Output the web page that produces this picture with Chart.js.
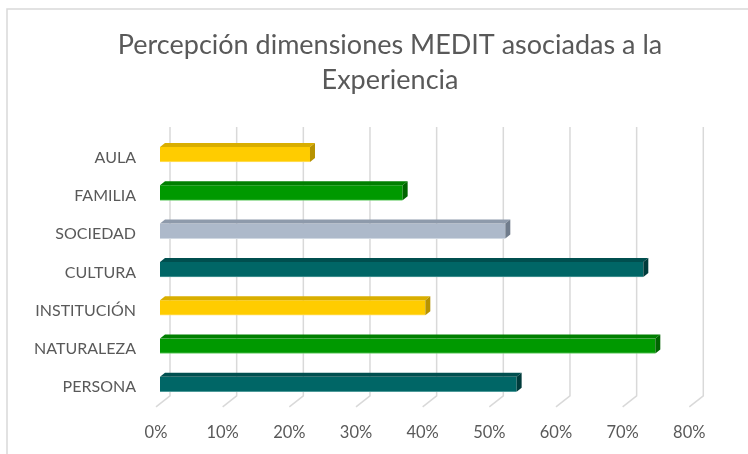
<!DOCTYPE html>
<html>
<head>
<meta charset="utf-8">
<script src="https://cdn.jsdelivr.net/npm/chart.js@4/dist/chart.umd.min.js"></script>
<style>
  html, body { margin: 0; padding: 0; background: #fff; }
  #wrap { width: 748px; height: 454px; }
</style>
</head>
<body>
<div id="wrap"><canvas id="c" width="748" height="454"></canvas></div>
<script>
// data
var categories = ["AULA", "FAMILIA", "SOCIEDAD", "CULTURA", "INSTITUCIÓN", "NATURALEZA", "PERSONA"];
var values = [22.5, 36.4, 51.8, 72.5, 39.8, 74.3, 53.5];
var tickValues = [0, 10, 20, 30, 40, 50, 60, 70, 80];
var titleLines = ["Percepción dimensiones MEDIT asociadas a la", "Experiencia"];

// front / top / side colours per bar
var frontColors = ["#FFCC00", "#009900", "#ADB9CA", "#006666", "#FFCC00", "#009900", "#006666"];
var topColors   = ["#D9AE00", "#007F00", "#8E9AAB", "#004F4F", "#D9AE00", "#007F00", "#004F4F"];
var sideColors  = ["#B89300", "#006400", "#707C8C", "#003B3B", "#B89300", "#006400", "#003B3B"];
var edgeColors  = ["#FFE066", "#66CC66", "#D0D8E2", "#4D9999", "#FFE066", "#66CC66", "#4D9999"];

var DX = 5, DY = 4;          // bar depth
var GX = 14, GY = 11;        // floor depth for gridlines

// frame and title
var framePlugin = {
  id: "frame",
  beforeDraw: function(chart) {
    var ctx = chart.ctx;
    ctx.save();
    ctx.fillStyle = "#fff";
    ctx.fillRect(0, 0, chart.width, chart.height);
    ctx.strokeStyle = "#d9d9d9";
    ctx.lineWidth = 1.5;
    ctx.beginPath();
    ctx.moveTo(7, chart.height);
    ctx.lineTo(7, 9);
    ctx.lineTo(chart.width, 9);
    ctx.stroke();

    ctx.fillStyle = "#595959";
    ctx.font = "400 27px Lato";
    ctx.textAlign = "center";
    ctx.textBaseline = "middle";
    titleLines.forEach(function(line, i) {
      ctx.fillText(line, 390, 45 + i * 35);
    });
    ctx.restore();
  }
};

// back wall gridlines with a slanted foot on the floor
var gridPlugin = {
  id: "grid3d",
  beforeDatasetsDraw: function(chart) {
    var ctx = chart.ctx, xs = chart.scales.x, area = chart.chartArea;
    var top = area.top - 8.5, back = area.bottom - 7.5;
    ctx.save();
    ctx.strokeStyle = "#d9d9d9";
    ctx.lineWidth = 1.5;
    tickValues.forEach(function(v) {
      var px = xs.getPixelForValue(v);
      ctx.beginPath();
      ctx.moveTo(px + 10, top);
      ctx.lineTo(px + 10, back);
      ctx.lineTo(px + 10 - GX, back + GY);
      ctx.stroke();
    });
    ctx.restore();
  }
};

// top and side faces of each bar
var bar3dPlugin = {
  id: "bar3d",
  afterDatasetsDraw: function(chart) {
    var ctx = chart.ctx;
    var meta = chart.getDatasetMeta(0);
    ctx.save();
    meta.data.forEach(function(bar, i) {
      var p = bar.getProps(["x", "y", "base", "height"], true);
      var t = p.y - p.height / 2, b = p.y + p.height / 2;
      ctx.fillStyle = topColors[i];
      ctx.beginPath();
      ctx.moveTo(p.base, t);
      ctx.lineTo(p.base + DX, t - DY);
      ctx.lineTo(p.x + DX, t - DY);
      ctx.lineTo(p.x, t);
      ctx.closePath();
      ctx.fill();
      ctx.fillStyle = sideColors[i];
      ctx.beginPath();
      ctx.moveTo(p.x, t);
      ctx.lineTo(p.x + DX, t - DY);
      ctx.lineTo(p.x + DX, b - DY);
      ctx.lineTo(p.x, b);
      ctx.closePath();
      ctx.fill();
    });
    ctx.restore();
  }
};

new Chart(document.getElementById("c"), {
  type: "bar",
  data: {
    labels: categories,
    datasets: [{
      data: values,
      backgroundColor: frontColors,
      borderColor: edgeColors,
      borderWidth: { top: 0, right: 0, bottom: 1, left: 0 },
      borderSkipped: false,
      barThickness: 15
    }]
  },
  options: {
    indexAxis: "y",
    responsive: false,
    animation: false,
    layout: { padding: { top: 135.4, left: 0, right: 54.7, bottom: 0 } },
    plugins: {
      legend: { display: false },
      tooltip: { enabled: false },
      title: { display: false }
    },
    scales: {
      x: {
        min: 0,
        max: 80,
        afterBuildTicks: function(scale) {
          scale.ticks = tickValues.map(function(v) { return { value: v }; });
        },
        afterFit: function(scale) { scale.height = 50.6; },
        grid: { display: false, drawTicks: false },
        border: { display: false },
        ticks: {
          color: "#595959",
          font: { family: "Lato", size: 16.5 },
          padding: 19,
          labelOffset: -4,
          maxRotation: 0,
          callback: function(v) { return v + "%"; }
        }
      },
      y: {
        afterFit: function(scale) { scale.width = 160; },
        grid: { display: false, drawTicks: false },
        border: { display: false },
        ticks: {
          color: "#595959",
          font: { family: "Lato", size: 16 },
          padding: 24,
          labelOffset: 3
        }
      }
    }
  },
  plugins: [framePlugin, gridPlugin, bar3dPlugin]
});
</script>
</body>
</html>
